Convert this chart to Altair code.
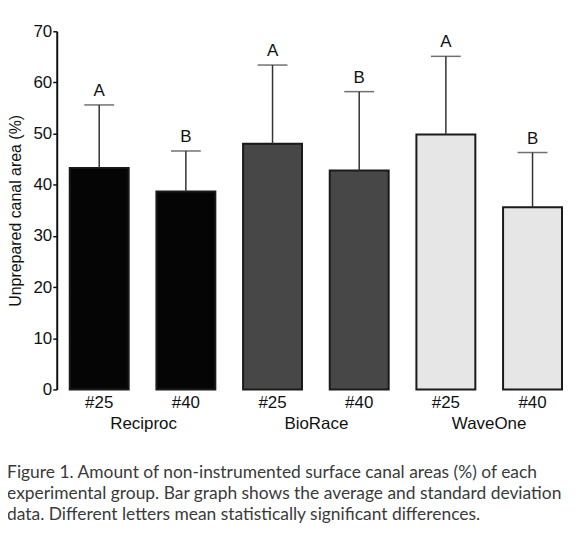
import pandas as pd
import altair as alt

# Bar groups (instrument system + file size)
groups = ["Reciproc", "Reciproc", "BioRace", "BioRace", "WaveOne", "WaveOne"]
sizes = ["#25", "#40", "#25", "#40", "#25", "#40"]
means = [43.3, 38.7, 48.0, 42.8, 49.8, 35.6]
upper = [55.6, 46.6, 63.4, 58.2, 65.1, 46.3]  # mean + SD
letters = ["A", "B", "A", "B", "A", "B"]
fills = ["#050505", "#050505", "#474747", "#474747", "#e6e6e6", "#e6e6e6"]
group_names = ["Reciproc", "BioRace", "WaveOne"]

caption = [
    "Figure 1. Amount of non-instrumented surface canal areas (%) of each",
    "experimental group. Bar graph shows the average and standard deviation",
    "data. Different letters mean statistically significant differences.",
]

df = pd.DataFrame({
    "group": groups,
    "size": sizes,
    "key": [g + " " + s for g, s in zip(groups, sizes)],
    "mean": means,
    "upper": upper,
    "letter": letters,
    "fill": fills,
})
keys = list(df["key"])
gdf = pd.DataFrame({"group": group_names})

FONT = "Liberation Sans"

x = alt.X(
    "key:N", sort=keys, title=None,
    scale=alt.Scale(paddingInner=0.32, paddingOuter=0.15),
    axis=alt.Axis(orient="bottom", labelExpr="split(datum.value, ' ')[1]",
                  labelAngle=0, domain=False, ticks=False, labelPadding=5,
                  labelFont=FONT, labelFontSize=17, labelColor="#111"),
)
y_axis = alt.Axis(values=[0, 10, 20, 30, 40, 50, 60, 70], grid=False,
                  domainColor="#111", domainWidth=2, tickColor="#111",
                  tickWidth=1.5, tickSize=4, labelPadding=1,
                  labelFont=FONT, labelFontSize=17, labelColor="#111",
                  titleFont=FONT, titleFontSize=16, titleFontWeight="normal",
                  titleColor="#111", titlePadding=10)
y_scale = alt.Scale(domain=[0, 70], nice=False)
y = alt.Y("mean:Q", title="Unprepared canal area (%)", scale=y_scale, axis=y_axis)
y_up = alt.Y("upper:Q", title="Unprepared canal area (%)", scale=y_scale, axis=y_axis)

base = alt.Chart(df)

bars = base.mark_bar(stroke="#1a1a1a", strokeWidth=2).encode(
    x=x, y=y, fill=alt.Fill("fill:N", scale=None)
)
err = base.mark_rule(color="#333", strokeWidth=1.5).encode(
    x=x, y=y, y2="upper:Q"
)
caps = base.mark_tick(color="#333", size=30, thickness=1.5, orient="horizontal").encode(
    x=x, y=y_up
)
lett = base.mark_text(font=FONT, fontSize=17, color="#111", dy=-9,
                      baseline="alphabetic").encode(
    x=x, y=y_up, text="letter:N"
)

bar_layer = alt.layer(bars, err, caps, lett)

grp = alt.Chart(gdf).mark_point(opacity=0).encode(
    x=alt.X("group:N", sort=group_names, title=None,
            scale=alt.Scale(paddingInner=0, paddingOuter=0),
            axis=alt.Axis(orient="bottom", labelAngle=0, domain=False,
                          ticks=False, labelPadding=26, labelFont=FONT,
                          labelFontSize=17, labelColor="#111")),
)

chart = alt.layer(bar_layer, grp).resolve_scale(
    x="independent"
).properties(
    width=521,
    height=360,
    autosize=alt.AutoSizeParams(type="none"),
    padding={"left": 49, "top": 22, "right": 0, "bottom": 148},
    background="white",
    title=alt.TitleParams(
        text=caption, orient="bottom", anchor="start", frame="bounds",
        font="Lato", fontSize=17.5, fontWeight="normal", color="#3a3a3a",
        lineHeight=21, offset=33,
    ),
).configure_view(stroke=None)

chart.save("out.html", embed_options={"renderer": "svg", "actions": False})
